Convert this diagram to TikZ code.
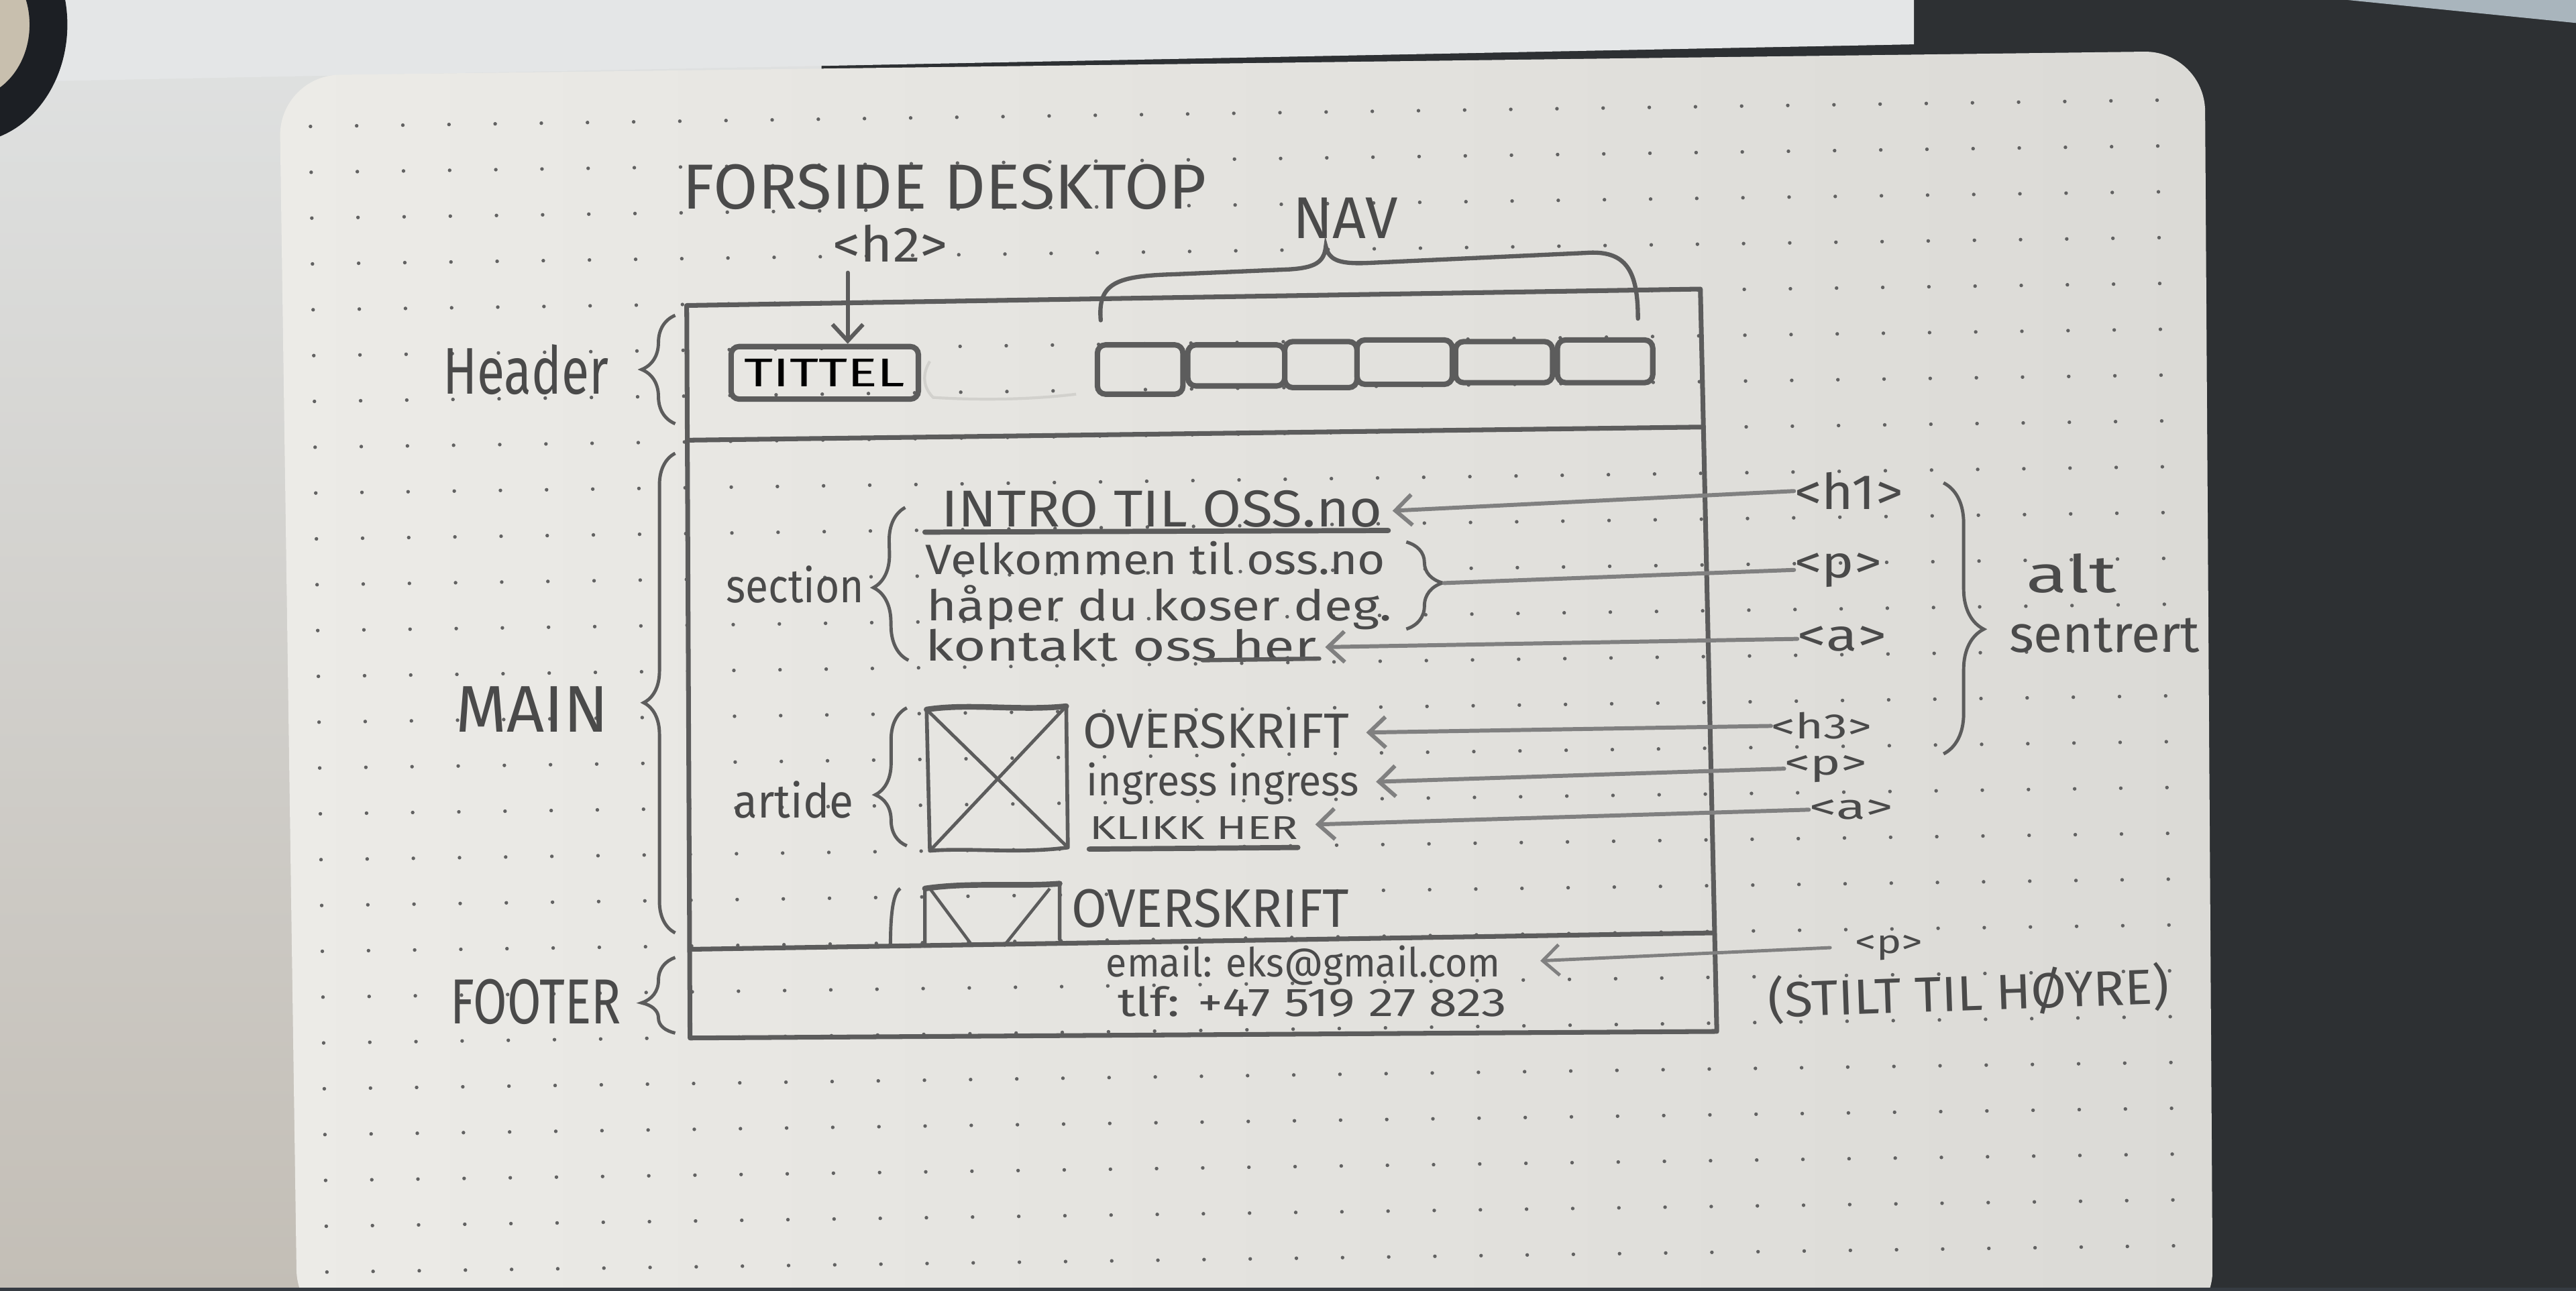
\documentclass[tikz,border=0pt]{standalone}
\usepackage{fontspec}
\usepackage{graphicx}
\usetikzlibrary{arrows.meta,decorations.pathreplacing,calc}
\newfontfamily\handfont{Fira Sans}
\newlength\pxu \setlength\pxu{0.02449cm}
% hand lettering: font size, target width (px units), text
\newcommand\hw[3]{{\handfont\fontsize{#1}{#1}\selectfont\resizebox{#2\pxu}{\height}{#3}}}
\definecolor{paperL}{HTML}{ECEBE7}
\definecolor{paperR}{HTML}{DBDAD6}
\definecolor{pencil}{HTML}{4A4A4A}
\definecolor{boxc}{HTML}{5C5C5C}
\definecolor{arrc}{HTML}{808080}
\definecolor{dotc}{HTML}{626262}
\definecolor{darkbg}{HTML}{2D3033}
\definecolor{sheet}{HTML}{E4E6E7}
\definecolor{wallT}{HTML}{E0E2E2}
\definecolor{wallB}{HTML}{C3BEB6}
\definecolor{ghost}{HTML}{D2D1CD}
\definecolor{skyc}{HTML}{A9B5BD}
\definecolor{ringin}{HTML}{C8BFAE}
\definecolor{ringc}{HTML}{1C1F24}
\definecolor{edgec}{HTML}{363B42}
\tikzset{
  hand/.style={text=pencil, inner sep=0pt},
  frame/.style={draw=boxc, line width=2pt, line cap=round, line join=round},
  navbox/.style={draw=boxc, line width=2.3pt, rounded corners=0.12cm, inner sep=0pt},
  arrowline/.style={draw=arrc, line width=1.7pt, line cap=round,
    -{Straight Barb[length=7pt,width=13pt]}},
  plainline/.style={draw=arrc, line width=1.7pt, line cap=round},
  brc/.style={draw=boxc, line width=1.4pt, decorate,
    decoration={brace, amplitude=#1}},
}
\begin{document}
\begin{tikzpicture}[x=0.02449cm, y=-0.02449cm]
\useasboundingbox (0,0) rectangle (1568,786);

% backdrop: wall, sheet behind, dark desk, ring
\shade[top color=wallT, bottom color=wallB] (0,0) rectangle (1568,786);
\fill[darkbg] (1165,0) -- (1568,0) -- (1568,786) -- (1165,786) -- cycle;
\fill[darkbg] (500,30) -- (1165,24) -- (1165,46) -- (500,52) -- cycle;
\fill[sheet] (0,0) -- (1165,0) -- (1165,27) -- (0,50) -- cycle;
\fill[skyc] (1429,0) -- (1568,0) -- (1568,14) -- cycle;
\fill[ringin] (-20,15) ellipse [x radius=40, y radius=47];
\fill[ringc, even odd rule] (-20,15) ellipse [x radius=61, y radius=72] (-20,15) ellipse [x radius=38, y radius=45];

% notebook page with dot grid
\shade[left color=paperL, right color=paperR, rounded corners=0.9cm]
  (181,810) -- (170,46) -- (1342,31) -- (1347,810) -- cycle;
\begin{scope}
  \clip[rounded corners=0.9cm] (181,810) -- (170,46) -- (1342,31) -- (1347,810) -- cycle;
  \foreach \i in {0,...,40} {
    \foreach \j in {0,...,25} {
      \fill[dotc] ({189+28.1*\i+0.4*\j},{77+27.9*\j-0.4*\i}) circle [radius=0.027cm];
    }
  }
\end{scope}
\fill[edgec] (0,784) rectangle (1568,786);

% ---- wireframe frame ----
\draw[frame] (418,186) -- (1035,176) -- (1045,628) -- (420,632) -- cycle;
\draw[frame] (420,268) -- (1037,260);
\draw[frame] (420,578) -- (1043,568);

% titles
\node[hand] (title) at (575,114) {\hw{27}{319}{FORSIDE DESKTOP}};
\node[hand] (h2) at (542,148) {\hw{21}{70}{<h2>}};
\node[hand] (nav) at (819,133) {\hw{25}{64}{NAV}};

% header content
\node[navbox, minimum width=114\pxu, minimum height=32\pxu] (tittel) at (502,227) {\hw{17}{98}{TITTEL}};
\coordinate (h2a) at (516,166);
\draw[arrowline, draw=boxc] (h2a) -- (h2a |- tittel.north);
\draw[ghost, line width=1.2pt] (566,220) .. controls (561,228) and (562,236) .. (568,242)
  .. controls (600,244) and (630,243) .. (655,240);
\node[navbox, minimum width=52\pxu, minimum height=30\pxu] (nav1) at (694,225) {};
\node[navbox, minimum width=59\pxu, minimum height=25\pxu] (nav2) at (752.5,222.5) {};
\node[navbox, minimum width=44\pxu, minimum height=28\pxu] (nav3) at (804,222) {};
\node[navbox, minimum width=58\pxu, minimum height=27\pxu] (nav4) at (855,220.5) {};
\node[navbox, minimum width=59\pxu, minimum height=25\pxu] (nav5) at (915.5,220.5) {};
\node[navbox, minimum width=58\pxu, minimum height=26\pxu] (nav6) at (977,220) {};
\draw[boxc, line width=1.8pt, line cap=round]
  (670,195) .. controls (668,172) and (680,168) .. (715,167) -- (785,164)
  .. controls (800,163) and (806,160) .. (807,150)
  .. controls (809,159) and (816,161) .. (835,160) -- (965,154)
  .. controls (990,152) and (997,165) .. (997,194);

% region labels and braces
\node[hand] (header) at (320,225) {\hw{28}{101}{Header}};
\node[hand] (main) at (324,432) {\hw{28}{93}{MAIN}};
\node[hand] (footer) at (326,610) {\hw{27}{104}{FOOTER}};
\draw[brc=0.5cm] (411,258) -- (411,192);
\draw[brc=0.47cm, decoration={aspect=0.48}] (411,568) -- (411,276);
\draw[brc=0.5cm, decoration={aspect=0.4}] (411,629) -- (411,583);

% section
\node[hand] (section) at (484,356) {\hw{20}{84}{section}};
\draw[brc=0.5cm, decoration={aspect=0.48}] (553,402) -- (551,309);
\node[hand, anchor=west] (intro) at (573,310) {\hw{22}{268}{INTRO TIL OSS.no}};
\draw[boxc, line width=2.2pt, line cap=round] (563,324) -- (845,323);
\node[hand, anchor=west] (velk) at (563,340) {\hw{18}{280}{Velkommen til oss.no}};
\node[hand, anchor=west] (haper) at (564,370) {\hw{18}{283}{håper du koser deg.}};
\node[hand, anchor=west] (kontakt) at (563,393) {\hw{18}{238}{kontakt oss her}};
\draw[boxc, line width=1.8pt, line cap=round] (732,402) -- (803,401);
\draw[brc=0.54cm, decoration={aspect=0.47}] (856,330) -- (856,383);
\coordinate (ptip) at (879,355);

% article
\node[hand] (article) at (483,487) {\hw{20}{73}{artide}};
\draw[brc=0.47cm, decoration={aspect=0.37}] (552,515) -- (552,431);
\draw[boxc, line width=1.6pt, line join=round]
  (564,432) .. controls (590,428) and (620,433) .. (649,430) -- (650,516)
  .. controls (620,520) and (590,516) .. (566,518) -- cycle;
\draw[boxc, line width=2.4pt, line cap=round] (564,432) .. controls (590,428) and (620,433) .. (649,430);
\draw[boxc, line width=1.4pt] (564,432) -- (650,516) (649,430) -- (566,518);
\node[hand, anchor=west] (over1) at (659,445) {\hw{21}{162}{OVERSKRIFT}};
\node[hand, anchor=west] (ingress) at (661,477) {\hw{18}{166}{ingress ingress}};
\node[hand, anchor=west] (klikk) at (663,504) {\hw{14}{127}{KLIKK HER}};
\draw[boxc, line width=2.2pt, line cap=round] (663,517) -- (790,516);

% second article, cut by the footer
\draw[boxc, line width=1.4pt] (548,541) .. controls (543,544) and (542,560) .. (542,577);
\draw[boxc, line width=1.5pt, line cap=round]
  (563,576) -- (563,541) .. controls (590,537) and (620,540) .. (645,538) -- (645,572);
\draw[boxc, line width=2.4pt, line cap=round] (563,541) .. controls (590,537) and (620,540) .. (645,538);
\draw[boxc, line width=1.3pt] (566,541) -- (592,576) (639,541) -- (611,576);
\node[hand, anchor=west] (over2) at (652,553) {\hw{23}{169}{OVERSKRIFT}};

% footer text
\node[hand, anchor=west] (email) at (673,588) {\hw{17}{240}{email: eks@gmail.com}};
\node[hand, anchor=west] (tlf) at (680,610) {\hw{17}{237}{tlf: +47 519 27 823}};

% tag labels on the right
\node[hand, anchor=west] (h1) at (1092,299) {\hw{21}{66}{<h1>}};
\node[hand, anchor=west] (p1) at (1092,347) {\hw{19}{53}{<p>}};
\node[hand, anchor=west] (a1) at (1094,389) {\hw{19}{54}{<a>}};
\node[hand, anchor=west] (h3) at (1078,442) {\hw{15}{61}{<h3>}};
\node[hand, anchor=west] (p2) at (1086,468) {\hw{15}{50}{<p>}};
\node[hand, anchor=west] (a2) at (1101,493) {\hw{15}{51}{<a>}};
\node[hand, anchor=west] (pfoot) at (1129,577) {\hw{14}{41}{<p>}};
\node[hand, anchor=west, rotate=2] (stilt) at (1076,609) {\hw{21}{244}{(STILT TIL HØYRE)}};
\draw[brc=0.6cm, decoration={aspect=0.54}] (1183,294) -- (1183,459);
\node[hand] (alt) at (1261,349) {\hw{22}{55}{alt}};
\node[hand] (sentrert) at (1281,387) {\hw{22}{116}{sentrert}};

% connectors
\draw[arrowline] (h1.west) -- ($(intro.east)+(6,1)$);
\draw[plainline] (ptip) -- (p1.west);
\draw[arrowline] (a1.west) -- ($(kontakt.east)+(5,1)$);
\draw[arrowline] (h3.west) -- ($(over1.east)+(10,1)$);
\draw[arrowline] (p2.west) -- ($(ingress.east)+(10,-1)$);
\draw[arrowline] (a2.west) -- ($(klikk.east)+(10,-2)$);
\draw[arrowline, line width=1.4pt] ($(pfoot.west)+(-15,0)$) -- ($(email.east)+(24,-3)$);
\end{tikzpicture}
\end{document}
